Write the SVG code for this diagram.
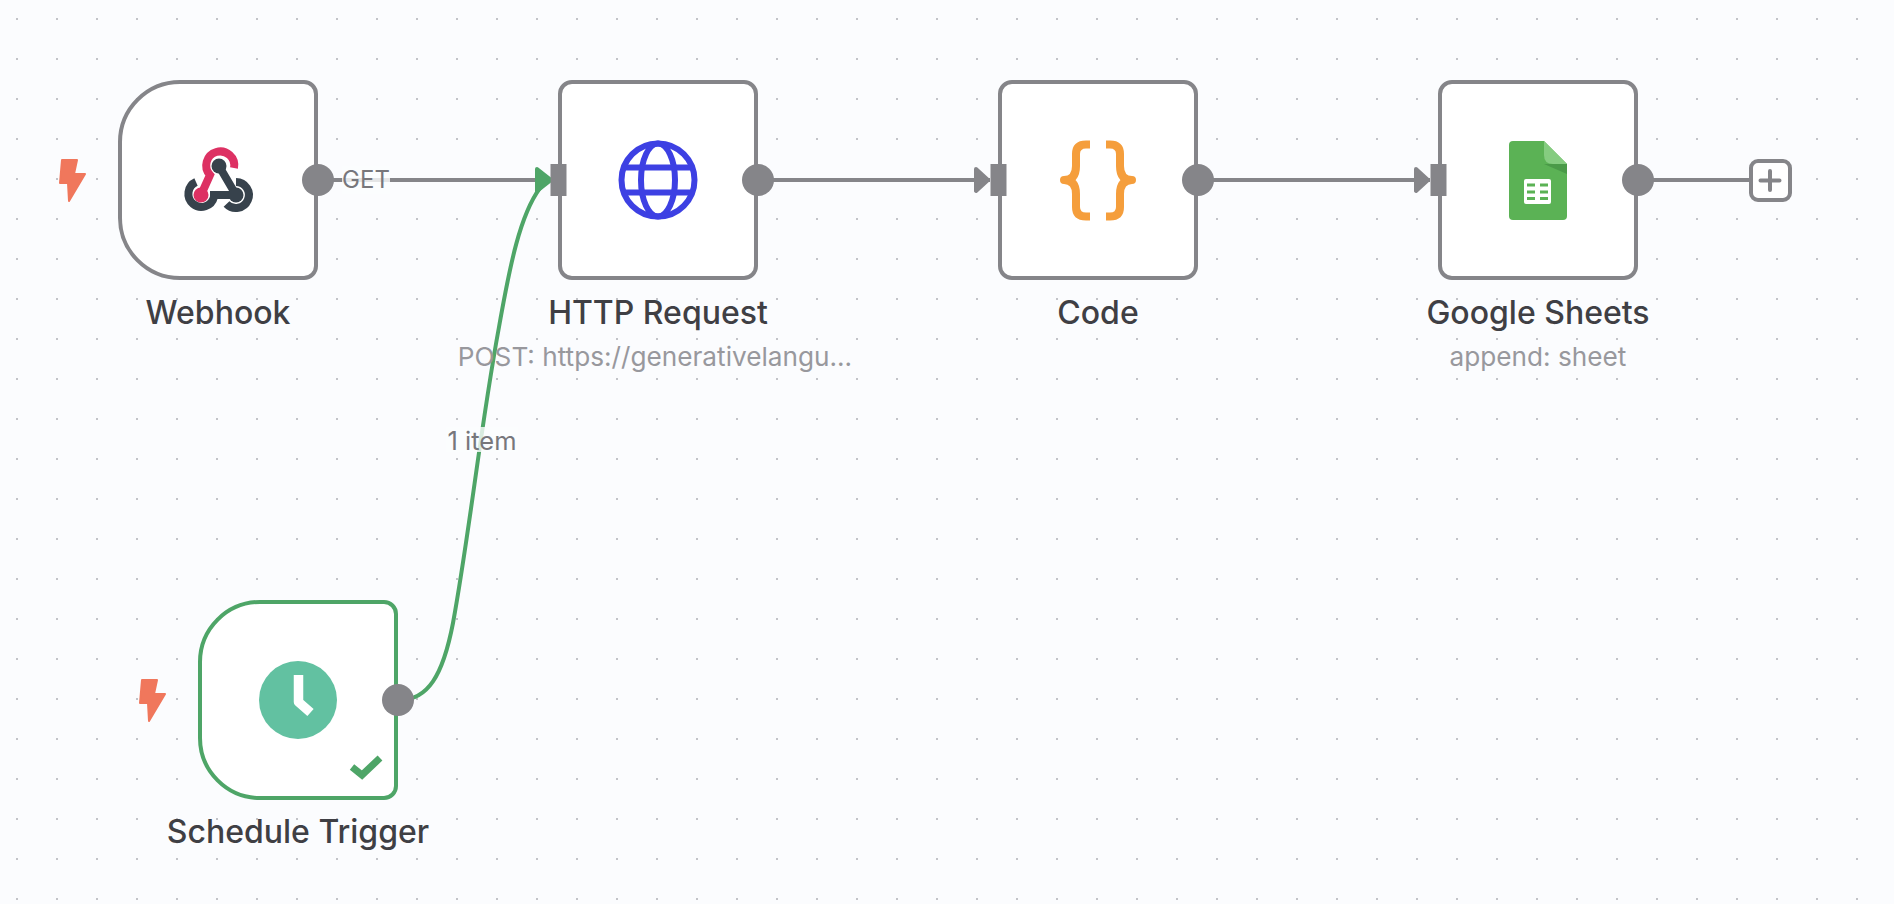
<svg xmlns="http://www.w3.org/2000/svg" width="1894" height="904" viewBox="0 0 1894 904">
<style>
.box{fill:#fff;stroke:#858589;stroke-width:4}
.ok{stroke:#4ea567}
.port{fill:#858589}
.conn{fill:none;stroke:#858589;stroke-width:4}
.title{font-family:Inter,"Liberation Sans",sans-serif;font-size:32px;font-weight:450;fill:#3f3f44;text-anchor:middle}
.sub{font-family:Inter,"Liberation Sans",sans-serif;font-size:26.200px;fill:#98989d;text-anchor:middle}
.lab{font-family:Inter,"Liberation Sans",sans-serif;font-size:24px;fill:#77777c;text-anchor:middle}
.bolt{fill:#f0775c;stroke:#f0775c;stroke-width:2;stroke-linejoin:round}
</style>
<defs>
<pattern id="dots" width="40" height="40" patternUnits="userSpaceOnUse" x="-3" y="-1"><rect x="19" y="19" width="2" height="2" fill="#c2c3c8"/></pattern>
<marker id="a" markerUnits="userSpaceOnUse" viewBox="0 0 18 28" refX="17" refY="14" markerWidth="18" markerHeight="28" orient="0"><path d="M3 3L15 14L3 25Z" fill="#858589" stroke="#858589" stroke-width="4" stroke-linejoin="round"/></marker>
<path id="bolt" d="M62 160H77L74 174H85L69 201L68 183H60Z"/>
</defs>
<rect width="1894" height="904" fill="#fbfcfe"/>
<rect width="1894" height="904" fill="url(#dots)"/>
<g id="connectors">
<path class="conn" d="M318 180H535"/>
<path class="conn" d="M758 180H990" marker-end="url(#a)"/>
<path class="conn" d="M1198 180H1430" marker-end="url(#a)"/>
<path class="conn" d="M1638 180H1749"/>
<path class="conn" style="stroke:#4ea567" d="M398 700C428 701 443 675 453 623C470 530 480 430 499 327C510 265 520 215 540 188"/>
<path d="M537 169L551 180L537 191Z" fill="#4ea567" stroke="#4ea567" stroke-width="4" stroke-linejoin="round"/>
<rect x="342" y="166" width="48" height="28" fill="#fbfcfe" opacity=".8"/>
<text class="lab" x="366" y="188">GET</text>
<rect x="446" y="427" width="72" height="25" fill="#fbfcfe" opacity=".8"/>
<text class="lab" style="font-size:25.500px" x="482" y="450">1 item</text>
</g>
<g id="webhook">
<path class="box" d="M180 82H304A12 12 0 0 1 316 94V266A12 12 0 0 1 304 278H180C147 278 120 251 120 218V142C120 109 147 82 180 82Z"/>
<use href="#bolt" class="bolt"/>
<circle class="port" cx="318" cy="180" r="16"/>
<g fill="none" stroke-width="8">
<path stroke="#dd3163" d="M234 168A14 14 0 1 0 210 175L201 195"/>
<path stroke="#37424c" d="M196 182A13 13 0 1 0 214 197V195H236M219 166L236 195M236 182A13 13 0 1 1 226.500 204"/>
</g>
<circle cx="219" cy="166" r="7.500" fill="#37424c"/><circle cx="201" cy="195" r="7.500" fill="#dd3163"/><circle cx="236" cy="195" r="7.500" fill="#37424c"/>
<text class="title" x="218" y="323.700">Webhook</text>
</g>
<g id="http">
<rect class="box" x="560" y="82" width="196" height="196" rx="12"/>
<rect class="port" x="550.500" y="164" width="16" height="32"/>
<circle class="port" cx="758" cy="180" r="16"/>
<g fill="none" stroke="#3d40e3" stroke-width="6"><circle cx="658" cy="180" r="36.500"/><ellipse cx="658" cy="180" rx="17" ry="36.500"/><path d="M626 167.500H690M626 192.500H690"/></g>
<text class="title" x="658" y="323.700">HTTP Request</text>
<text class="sub" x="655" y="366">POST: https://generativelangu...</text>
</g>
<g id="code">
<rect class="box" x="1000" y="82" width="196" height="196" rx="12"/>
<rect class="port" x="990.500" y="164" width="16" height="32"/>
<circle class="port" cx="1198" cy="180" r="16"/>
<g fill="none" stroke="#f59e3c" stroke-width="8" stroke-linejoin="round"><path d="M1090 144.500H1086Q1076 144.500 1076 154V166Q1076 180 1064 180Q1076 180 1076 194V207Q1076 216.500 1086 216.500H1090"/><path d="M1106 144.500H1110Q1120 144.500 1120 154V166Q1120 180 1132 180Q1120 180 1120 194V207Q1120 216.500 1110 216.500H1106"/></g>
<text class="title" x="1098" y="323.700">Code</text>
</g>
<g id="sheets">
<rect class="box" x="1440" y="82" width="196" height="196" rx="12"/>
<rect class="port" x="1430.500" y="164" width="16" height="32"/>
<circle class="port" cx="1638" cy="180" r="16"/>
<path d="M1513 141H1544L1567 164V216Q1567 220 1563 220H1513Q1509 220 1509 216V145Q1509 141 1513 141Z" fill="#5bb255"/>
<path d="M1544 164L1567 174V164Z" fill="#4a9a48"/>
<path d="M1544 141V155Q1544 164 1553 164H1567Z" fill="#85cc80"/>
<rect x="1524" y="179" width="27" height="25" rx="2" fill="#fff"/>
<path d="M1527 185H1535M1540 185H1548M1527 192H1535M1540 192H1548M1527 198.500H1535M1540 198.500H1548" stroke="#5bb255" stroke-width="3"/>
<text class="title" x="1538" y="323.700">Google Sheets</text>
<text class="sub" x="1538" y="366">append: sheet</text>
</g>
<g id="add">
<rect x="1751" y="161" width="39" height="39" rx="7" fill="#fff" stroke="#858589" stroke-width="4"/>
<path d="M1770 171V190M1760.500 180.500H1779.500" stroke="#858589" stroke-width="4" stroke-linecap="round"/>
</g>
<g id="schedule">
<path class="box ok" d="M260 602H384A12 12 0 0 1 396 614V786A12 12 0 0 1 384 798H260C227 798 200 771 200 738V662C200 629 227 602 260 602Z"/>
<use href="#bolt" class="bolt" x="80" y="520"/>
<circle class="port" cx="398" cy="700" r="16"/>
<circle cx="298" cy="700" r="39" fill="#62c1a1"/>
<path d="M298.500 675V702L310.500 712.500" fill="none" stroke="#fff" stroke-width="9.500" stroke-linejoin="round"/>
<path d="M352 767L362 775L380 758" fill="none" stroke="#4ea567" stroke-width="7"/>
<text class="title" x="298" y="843.300">Schedule Trigger</text>
</g>
</svg>
